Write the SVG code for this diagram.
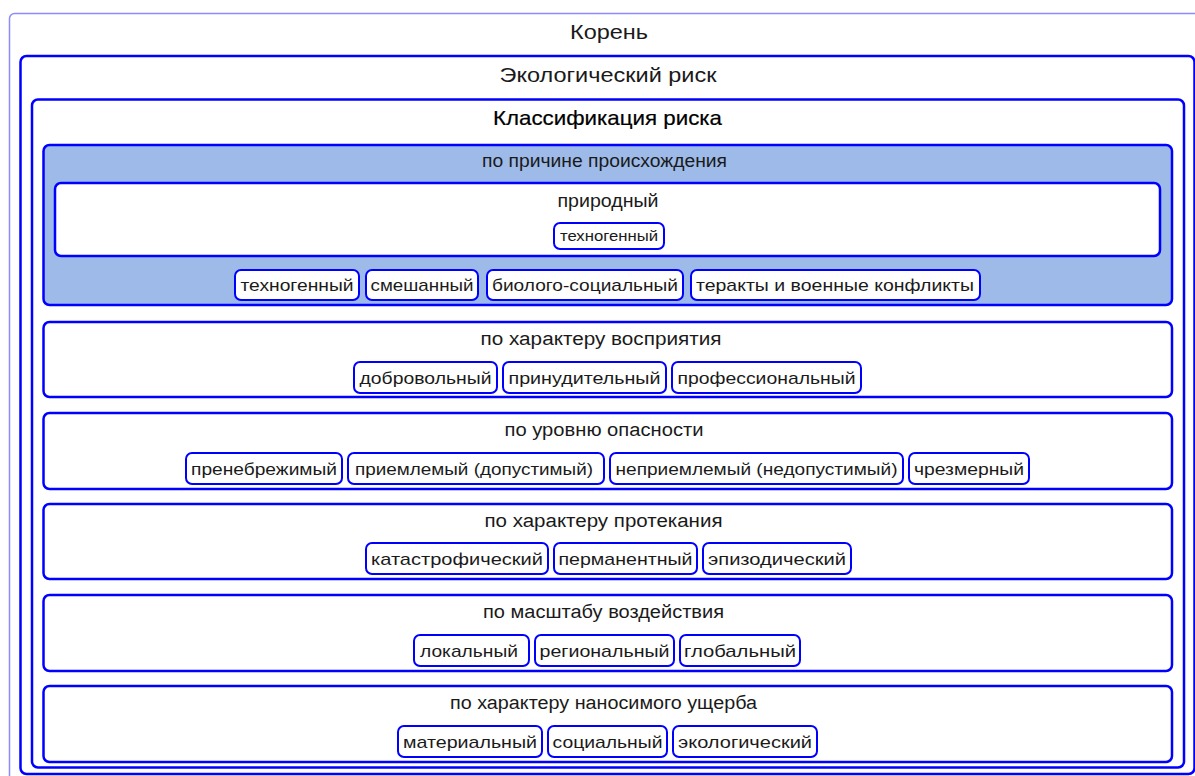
<svg xmlns="http://www.w3.org/2000/svg" width="1195" height="776" viewBox="0 0 1195 776">
<style>
text{font-family:"Liberation Sans",Arial,sans-serif;fill:#1a1a1a;text-anchor:middle}
.h{font-size:21px}
.s{font-size:18px}
.p{font-size:17px}
.box{fill:#fff;stroke:#0000ff;stroke-width:2.5}
.sec1{fill:#9dbae9;stroke:#0000ff;stroke-width:2.5}
.pill{fill:#fff;stroke:#0000ff;stroke-width:2}
</style>
<rect width="1195" height="776" fill="#fff"/>
<g id="root">
<rect x="9.5" y="13.5" width="1200" height="780" rx="5" fill="#fff" stroke="#8c8cff" stroke-width="1.5"/>
<text class="h" x="609" y="39" textLength="78" lengthAdjust="spacingAndGlyphs">Корень</text>
</g>
<g id="eco">
<rect x="20.5" y="56" width="1174" height="718" rx="6" class="box"/>
<text class="h" x="608" y="82" textLength="217" lengthAdjust="spacingAndGlyphs">Экологический риск</text>
</g>
<g id="class">
<rect x="32" y="99.5" width="1152" height="668" rx="6" class="box"/>
<text class="h" x="607.5" y="125" textLength="229" lengthAdjust="spacingAndGlyphs" style="fill:#000;stroke:#000;stroke-width:0.2">Классификация риска</text>
</g>
<g id="sec1">
<rect x="43.5" y="145" width="1128.5" height="160" rx="6" class="sec1"/>
<text class="s" x="604.5" y="166.5" textLength="245" lengthAdjust="spacingAndGlyphs">по причине происхождения</text>
</g>
<g id="nat">
<rect x="55" y="183" width="1105" height="73" rx="6" class="box"/>
<text class="s" x="608" y="206.5" textLength="101" lengthAdjust="spacingAndGlyphs">природный</text>
</g>
<g id="nat-tech"><rect x="554" y="223" width="110" height="26" rx="6" class="pill"/><text class="p" style="font-size:15px" x="609" y="241" textLength="98" lengthAdjust="spacingAndGlyphs">техногенный</text></g>
<g id="s1p1"><rect x="235" y="270" width="124" height="30" rx="6" class="pill"/><text class="p" x="297" y="291" textLength="113" lengthAdjust="spacingAndGlyphs">техногенный</text></g>
<g id="s1p2"><rect x="366" y="270" width="112" height="30" rx="6" class="pill"/><text class="p" x="422" y="291" textLength="103" lengthAdjust="spacingAndGlyphs">смешанный</text></g>
<g id="s1p3"><rect x="487" y="270" width="196" height="30" rx="6" class="pill"/><text class="p" x="585" y="291" textLength="186" lengthAdjust="spacingAndGlyphs">биолого-социальный</text></g>
<g id="s1p4"><rect x="691" y="270" width="289" height="30" rx="6" class="pill"/><text class="p" x="835" y="291" textLength="278" lengthAdjust="spacingAndGlyphs">теракты и военные конфликты</text></g>

<g id="sec2"><rect x="43.5" y="322" width="1128.5" height="75" rx="6" class="box"/><text class="s" x="601" y="345" textLength="241" lengthAdjust="spacingAndGlyphs">по характеру восприятия</text></g>
<g id="s2p1"><rect x="354" y="362" width="143" height="31" rx="6" class="pill"/><text class="p" x="425.5" y="383.5" textLength="132" lengthAdjust="spacingAndGlyphs">добровольный</text></g>
<g id="s2p2"><rect x="503" y="362" width="163" height="31" rx="6" class="pill"/><text class="p" x="584.5" y="383.5" textLength="152" lengthAdjust="spacingAndGlyphs">принудительный</text></g>
<g id="s2p3"><rect x="672" y="362" width="189" height="31" rx="6" class="pill"/><text class="p" x="766.5" y="383.5" textLength="178" lengthAdjust="spacingAndGlyphs">профессиональный</text></g>

<g id="sec3"><rect x="43.5" y="413" width="1128.5" height="76" rx="6" class="box"/><text class="s" x="604" y="436" textLength="199" lengthAdjust="spacingAndGlyphs">по уровню опасности</text></g>
<g id="s3p1"><rect x="186" y="453" width="156" height="31" rx="6" class="pill"/><text class="p" x="264" y="474.5" textLength="146" lengthAdjust="spacingAndGlyphs">пренебрежимый</text></g>
<g id="s3p2"><rect x="348" y="453" width="256" height="31" rx="6" class="pill"/><text class="p" x="474" y="474.5" textLength="238" lengthAdjust="spacingAndGlyphs">приемлемый (допустимый)</text></g>
<g id="s3p3"><rect x="610" y="453" width="293" height="31" rx="6" class="pill"/><text class="p" x="756.5" y="474.5" textLength="282" lengthAdjust="spacingAndGlyphs">неприемлемый (недопустимый)</text></g>
<g id="s3p4"><rect x="909" y="453" width="120" height="31" rx="6" class="pill"/><text class="p" x="969" y="474.5" textLength="110" lengthAdjust="spacingAndGlyphs">чрезмерный</text></g>

<g id="sec4"><rect x="43.5" y="504" width="1128.5" height="75" rx="6" class="box"/><text class="s" x="603.5" y="527" textLength="238" lengthAdjust="spacingAndGlyphs">по характеру протекания</text></g>
<g id="s4p1"><rect x="366" y="543" width="182" height="31" rx="6" class="pill"/><text class="p" x="457" y="564.5" textLength="172" lengthAdjust="spacingAndGlyphs">катастрофический</text></g>
<g id="s4p2"><rect x="554" y="543" width="143" height="31" rx="6" class="pill"/><text class="p" x="625.5" y="564.5" textLength="134" lengthAdjust="spacingAndGlyphs">перманентный</text></g>
<g id="s4p3"><rect x="703" y="543" width="148" height="31" rx="6" class="pill"/><text class="p" x="777" y="564.5" textLength="138" lengthAdjust="spacingAndGlyphs">эпизодический</text></g>

<g id="sec5"><rect x="43.5" y="595" width="1128.5" height="76" rx="6" class="box"/><text class="s" x="603.5" y="617.5" textLength="241" lengthAdjust="spacingAndGlyphs">по масштабу воздействия</text></g>
<g id="s5p1"><rect x="414" y="635" width="115" height="31" rx="6" class="pill"/><text class="p" x="469" y="656.5" textLength="98" lengthAdjust="spacingAndGlyphs">локальный</text></g>
<g id="s5p2"><rect x="535" y="635" width="139" height="31" rx="6" class="pill"/><text class="p" x="604.5" y="656.5" textLength="130" lengthAdjust="spacingAndGlyphs">региональный</text></g>
<g id="s5p3"><rect x="680" y="635" width="120" height="31" rx="6" class="pill"/><text class="p" x="740" y="656.5" textLength="112" lengthAdjust="spacingAndGlyphs">глобальный</text></g>

<g id="sec6"><rect x="43.5" y="686" width="1128.5" height="76" rx="6" class="box"/><text class="s" x="603.5" y="708.5" textLength="307" lengthAdjust="spacingAndGlyphs">по характеру наносимого ущерба</text></g>
<g id="s6p1"><rect x="398" y="726" width="144" height="31" rx="6" class="pill"/><text class="p" x="470" y="747.5" textLength="134" lengthAdjust="spacingAndGlyphs">материальный</text></g>
<g id="s6p2"><rect x="548" y="726" width="119" height="31" rx="6" class="pill"/><text class="p" x="607.5" y="747.5" textLength="110" lengthAdjust="spacingAndGlyphs">социальный</text></g>
<g id="s6p3"><rect x="673" y="726" width="144" height="31" rx="6" class="pill"/><text class="p" x="745" y="747.5" textLength="134" lengthAdjust="spacingAndGlyphs">экологический</text></g>

<g id="connectors"></g>
</svg>
